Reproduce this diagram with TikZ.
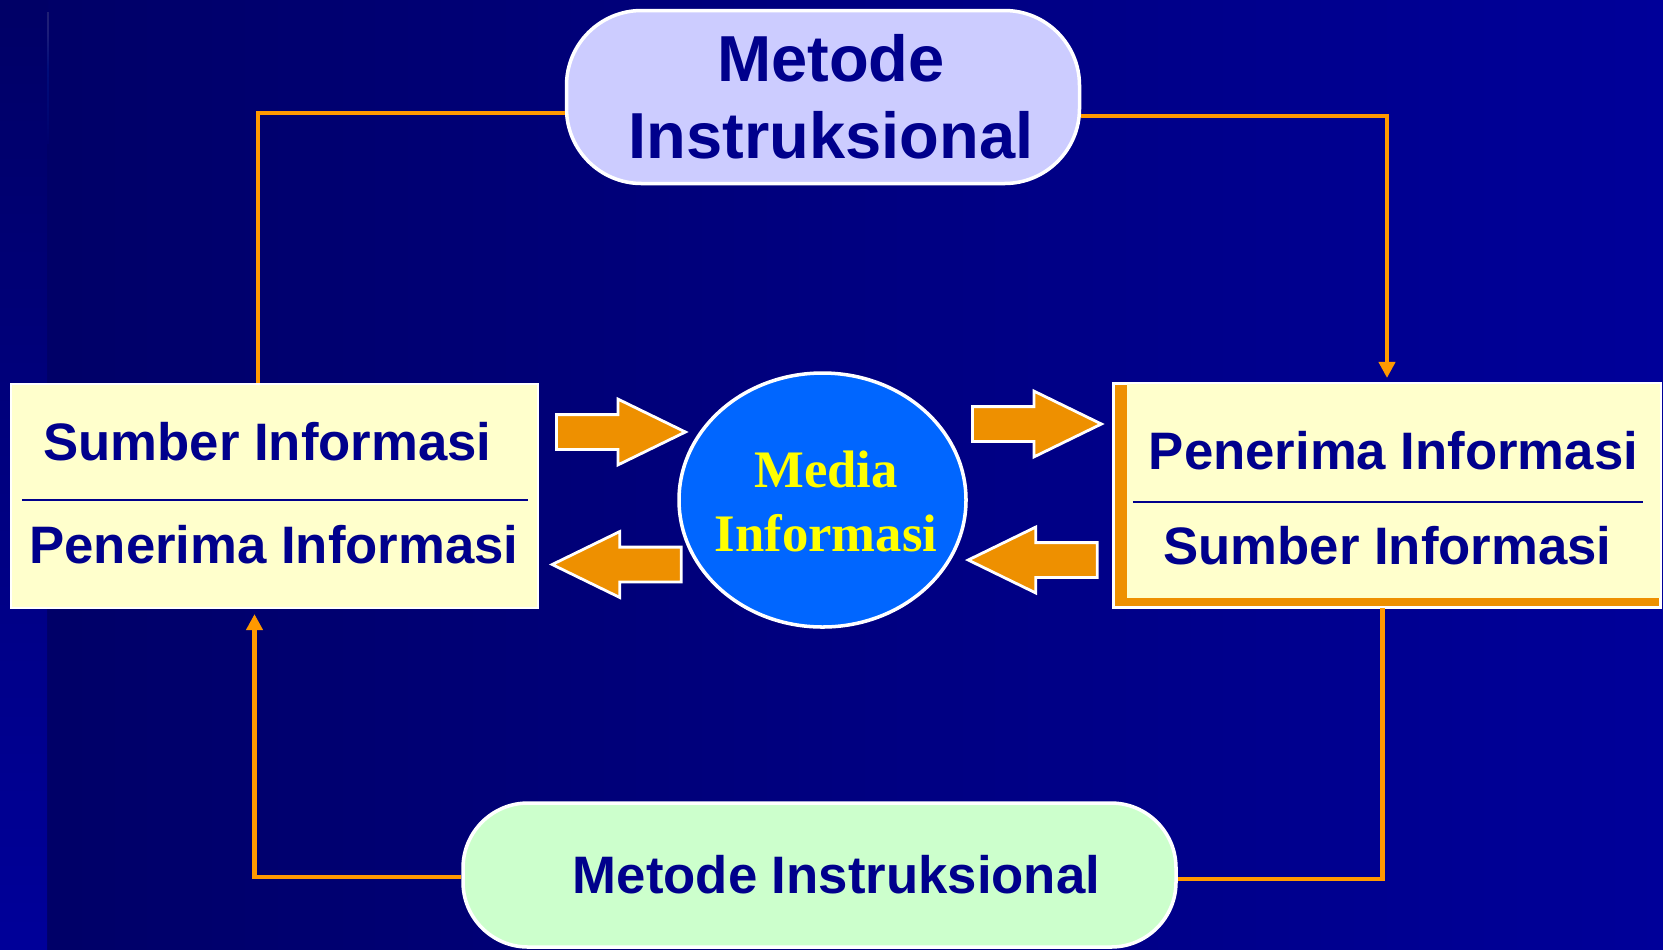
\documentclass[tikz,border=0pt]{standalone}
\usepackage{fontspec}
\setmainfont{Liberation Sans}
\newfontfamily\mediafont{Liberation Serif}
\usetikzlibrary{arrows.meta,shapes.arrows,shapes.geometric}
\definecolor{latargelap}{RGB}{0,0,102}
\definecolor{latarterang}{RGB}{0,0,153}
\definecolor{tepibiru}{RGB}{0,0,150}
\definecolor{tepisedang}{RGB}{0,51,190}
\definecolor{tepiputih}{RGB}{230,236,255}
\definecolor{garisoranye}{RGB}{255,153,0}
\definecolor{panahoranye}{RGB}{238,144,0}
\definecolor{krem}{RGB}{255,255,204}
\definecolor{ungumuda}{RGB}{204,204,255}
\definecolor{hijaumuda}{RGB}{204,255,204}
\definecolor{teksbiru}{RGB}{0,0,140}
\definecolor{biruterang}{RGB}{0,102,255}
\definecolor{kuning}{RGB}{255,255,0}
\pgfdeclareverticalshading{garistepi}{4pt}{color(0pt)=(tepibiru); color(8pt)=(tepisedang); color(24pt)=(biruterang); color(36pt)=(tepiputih); color(43pt)=(krem)}

\begin{document}
\begin{tikzpicture}[
    box/.style={draw=white,line width=0.6pt,inner sep=0pt},
    pil/.style={box,line width=1pt,text=teksbiru},
    teks/.style={text=teksbiru,font=\fontsize{15}{18}\selectfont\bfseries,inner sep=0pt,anchor=base},
    link/.style={garisoranye,line width=1.4pt},
    ujung/.style={-{Triangle[length=1.6mm,width=1.6mm]}},
    blok/.style={single arrow,draw=white,line width=0.8pt,fill=panahoranye,minimum height=1.29cm,anchor=tail,
      inner xsep=0pt,inner ysep=0.16cm,single arrow head extend=0.155cm,single arrow tip angle=52}]
        \useasboundingbox (0,0) rectangle (16.63,-9.49);
        \fill[left color=latargelap,right color=latarterang] (0,0) rectangle (16.63,-9.49);
        \fill[top color=latargelap,bottom color=latarterang] (0,0) rectangle (0.47,-9.49);
        \shade[shading=garistepi] (0.46,0) rectangle (0.50,-1.55);

        \node[pil,fill=ungumuda,rounded corners=0.75cm,minimum width=5.13cm,minimum height=1.73cm,align=center,
          font=\fontsize{18.5}{22}\selectfont\bfseries] (metatas) at (8.23,-0.97) {\hspace*{0.16cm}Metode\\\hspace*{0.16cm}Instruksional};
        \node[pil,fill=hijaumuda,rounded corners=0.65cm,minimum width=7.13cm,minimum height=1.44cm,
          font=\fontsize{15}{18}\selectfont\bfseries] (metbawah) at (8.195,-8.75) {\hspace*{0.34cm}Metode Instruksional};

        \node[box,fill=krem,minimum width=5.27cm,minimum height=2.24cm] (kiri) at (2.745,-4.96) {};
        \node[teks] (kiri1) at (2.675,-4.60) {Sumber Informasi};
        \node[teks] (kiri2) at (2.74,-5.63) {Penerima Informasi};
        \draw[teksbiru,line width=0.8pt] ([xshift=1.2mm,yshift=-0.4mm]kiri.west) -- ([xshift=-1.1mm,yshift=-0.4mm]kiri.east);

        \node[box,fill=panahoranye,minimum width=5.46cm,minimum height=2.23cm] (kanan) at (13.87,-4.955) {};
        \node[fill=krem,inner sep=0pt,minimum width=5.33cm,minimum height=2.14cm] (kanankrem) at (13.935,-4.91) {};
        \draw[white,line width=0.6pt] (kanan.north west) rectangle (kanan.south east);
        \node[teks] (kanan1) at (13.935,-4.69) {Penerima Informasi};
        \node[teks] (kanan2) at (13.875,-5.64) {Sumber Informasi};
        \draw[teksbiru,line width=0.8pt] ([xshift=2mm,yshift=-0.65mm]kanan.west) -- ([xshift=-1.85mm,yshift=-0.65mm]kanan.east);

        \node[ellipse,draw=white,line width=1pt,fill=biruterang,minimum width=2.87cm,minimum height=2.54cm,inner sep=0pt] (media) at (8.225,-5.00) {};
        \node[align=center,text=kuning,inner sep=0pt,font=\mediafont\fontsize{15}{18.2}\selectfont\bfseries] (mediateks) at (8.26,-5.01) {Media\\Informasi};

        \node[blok] (panah1) at (5.55,-4.32) {};
        \node[blok,shape border rotate=180] (panah2) at (6.826,-5.645) {};
        \node[blok] (panah3) at (9.71,-4.24) {};
        \node[blok,shape border rotate=180] (panah4) at (10.986,-5.60) {};

        \draw[link] ([yshift=-1.6mm]metatas.west) -| ([xshift=-1.65mm]kiri.north);
        \draw[link,ujung] ([yshift=-1.9mm]metatas.east) -| ([yshift=0.5mm]kanan.north);
        \draw[link] ([xshift=-0.45mm]kanan.south) |- ([yshift=-0.4mm]metbawah.east);
        \draw[link,ujung] ([yshift=-0.2mm]metbawah.west) -| ([xshift=-2mm,yshift=-0.5mm]kiri.south);
      \end{tikzpicture}
\end{document}
